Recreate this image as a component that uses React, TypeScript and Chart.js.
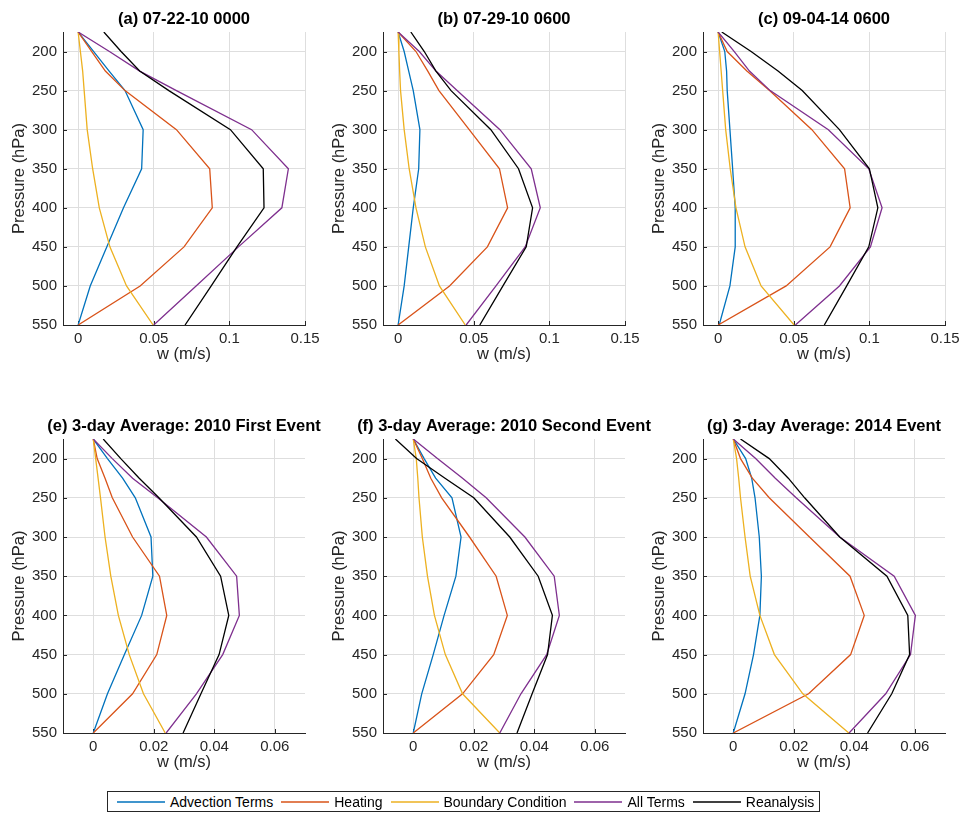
import React, { useEffect, useRef } from 'react';
import { Chart, registerables } from 'chart.js';

Chart.register(...registerables);

// ---------- data ----------
const PRESSURE = [175, 200, 225, 250, 300, 350, 400, 450, 500, 550];

const SERIES_NAMES = ['Advection Terms', 'Heating', 'Boundary Condition', 'All Terms', 'Reanalysis'];
const SERIES_COLORS = ['#0072BD', '#D95319', '#EDB120', '#7E2F8E', '#000000'];

const Y_TICKS = [200, 250, 300, 350, 400, 450, 500, 550];
const TOP_X_TICKS = [0, 0.05, 0.1, 0.15];
const TOP_X_LABELS = ['0', '0.05', '0.1', '0.15'];
const BOTTOM_X_TICKS = [0, 0.02, 0.04, 0.06];
const BOTTOM_X_LABELS = ['0', '0.02', '0.04', '0.06'];

const TITLES = [
  '(a) 07-22-10 0000',
  '(b) 07-29-10 0600',
  '(c) 09-04-14 0600',
  '(e) 3-day Average: 2010 First Event',
  '(f) 3-day Average: 2010 Second Event',
  '(g) 3-day Average: 2014 Event',
];

// (a)
const A_ADV = [0, 0.0103, 0.0205, 0.031, 0.043, 0.042, 0.030, 0.019, 0.008, 0];
const A_HEAT = [0, 0.009, 0.018, 0.031, 0.065, 0.087, 0.0887, 0.070, 0.041, 0];
const A_BC = [0, 0.0015, 0.003, 0.004, 0.006, 0.0096, 0.014, 0.021, 0.032, 0.0496];
const A_ALL = [0, 0.0207, 0.0407, 0.065, 0.1147, 0.139, 0.1347, 0.106, 0.078, 0.050];
const A_REAN = [0.017, 0.0284, 0.0407, 0.060, 0.1007, 0.1224, 0.1229, 0.105, 0.088, 0.0707];

// (b)
const B_ADV = [0, 0.004, 0.007, 0.010, 0.0144, 0.0136, 0.010, 0.007, 0.004, 0];
const B_HEAT = [0, 0.0118, 0.0196, 0.027, 0.047, 0.067, 0.0724, 0.059, 0.034, 0];
const B_BC = [0, 0.0005, 0.001, 0.0016, 0.004, 0.0073, 0.0118, 0.018, 0.0273, 0.0444];
const B_ALL = [0, 0.014, 0.025, 0.039, 0.0673, 0.088, 0.094, 0.084, 0.0647, 0.045];
const B_REAN = [0.0084, 0.0173, 0.025, 0.035, 0.0613, 0.0796, 0.0889, 0.0847, 0.0693, 0.054];

// (c)
const C_ADV = [0, 0.0044, 0.0056, 0.006, 0.0078, 0.0096, 0.0113, 0.0113, 0.0078, 0.0007];
const C_HEAT = [0, 0.006, 0.019, 0.034, 0.062, 0.0836, 0.0873, 0.074, 0.045, 0];
const C_BC = [0, 0.001, 0.002, 0.003, 0.005, 0.008, 0.0118, 0.0178, 0.0284, 0.0502];
const C_ALL = [0, 0.0107, 0.0207, 0.0344, 0.0729, 0.0996, 0.1084, 0.1007, 0.0802, 0.0511];
const C_REAN = [0.0024, 0.0218, 0.0396, 0.0556, 0.0802, 0.1, 0.1056, 0.0996, 0.085, 0.0702];

// (e)
const E_ADV = [0, 0.0047, 0.0097, 0.0139, 0.0191, 0.0197, 0.016, 0.0103, 0.0047, 0];
const E_HEAT = [0, 0.0013, 0.0039, 0.0063, 0.013, 0.0219, 0.0243, 0.021, 0.013, 0];
const E_BC = [0, 0.0008, 0.0016, 0.0024, 0.0039, 0.0058, 0.0083, 0.0119, 0.0166, 0.0238];
const E_ALL = [0, 0.0063, 0.013, 0.0213, 0.0374, 0.0474, 0.0483, 0.0428, 0.0341, 0.0241];
const E_REAN = [0.0033, 0.0091, 0.0152, 0.0217, 0.0341, 0.0421, 0.0448, 0.0416, 0.0356, 0.0297];

// (f)
const F_ADV = [0, 0.0036, 0.0074, 0.0128, 0.0158, 0.0141, 0.0102, 0.0066, 0.0028, 0];
const F_HEAT = [0, 0.003, 0.0058, 0.0094, 0.0186, 0.0274, 0.0311, 0.0266, 0.0163, 0];
const F_BC = [0, 0.001, 0.0015, 0.0019, 0.003, 0.0047, 0.007, 0.0106, 0.0163, 0.0286];
const F_ALL = [0, 0.008, 0.0163, 0.0241, 0.0369, 0.0466, 0.0483, 0.0441, 0.0356, 0.0286];
const F_REAN = [-0.0059, 0.0011, 0.0105, 0.02, 0.0319, 0.0413, 0.046, 0.0444, 0.0393, 0.0343];

// (g)
const G_ADV = [0, 0.0041, 0.0061, 0.0072, 0.0086, 0.0093, 0.0088, 0.0067, 0.0039, 0];
const G_HEAT = [0, 0.0024, 0.0063, 0.0119, 0.0252, 0.0386, 0.0433, 0.0388, 0.0249, 0];
const G_BC = [0, 0.0011, 0.0018, 0.0024, 0.0039, 0.0056, 0.0088, 0.0136, 0.023, 0.0382];
const G_ALL = [0, 0.0074, 0.0139, 0.0208, 0.0352, 0.0532, 0.0602, 0.0586, 0.0504, 0.0383];
const G_REAN = [0.0024, 0.0119, 0.0182, 0.0236, 0.0352, 0.0508, 0.0577, 0.0583, 0.0524, 0.0444];

// ---------- layout / style ----------
const FONT = '"Liberation Sans", Arial, Helvetica, sans-serif';
const AXIS_COLOR = '#262626';
const GRID_COLOR = '#dedede';

const CANVAS_W = 368;
const Y_AXIS_W = 63;
const RIGHT_PAD = 63;
const TOP_PAD = 32;
const X_AXIS_H = 45;

type PanelSpec = {
  title: string;
  series: number[][];
  xMin: number;
  xMax: number;
  xTicks: number[];
  xLabels: string[];
  left: number;
  top: number;
  height: number;
};

const PANELS: PanelSpec[] = [
  { title: TITLES[0], series: [A_ADV, A_HEAT, A_BC, A_ALL, A_REAN], xMin: -0.01, xMax: 0.15, xTicks: TOP_X_TICKS, xLabels: TOP_X_LABELS, left: 0, top: 0, height: 370 },
  { title: TITLES[1], series: [B_ADV, B_HEAT, B_BC, B_ALL, B_REAN], xMin: -0.01, xMax: 0.15, xTicks: TOP_X_TICKS, xLabels: TOP_X_LABELS, left: 320, top: 0, height: 370 },
  { title: TITLES[2], series: [C_ADV, C_HEAT, C_BC, C_ALL, C_REAN], xMin: -0.01, xMax: 0.15, xTicks: TOP_X_TICKS, xLabels: TOP_X_LABELS, left: 640, top: 0, height: 370 },
  { title: TITLES[3], series: [E_ADV, E_HEAT, E_BC, E_ALL, E_REAN], xMin: -0.01, xMax: 0.07, xTicks: BOTTOM_X_TICKS, xLabels: BOTTOM_X_LABELS, left: 0, top: 407, height: 371 },
  { title: TITLES[4], series: [F_ADV, F_HEAT, F_BC, F_ALL, F_REAN], xMin: -0.01, xMax: 0.07, xTicks: BOTTOM_X_TICKS, xLabels: BOTTOM_X_LABELS, left: 320, top: 407, height: 371 },
  { title: TITLES[5], series: [G_ADV, G_HEAT, G_BC, G_ALL, G_REAN], xMin: -0.01, xMax: 0.07, xTicks: BOTTOM_X_TICKS, xLabels: BOTTOM_X_LABELS, left: 640, top: 407, height: 371 },
];

// MATLAB-like inward tick marks
const inwardTicks = {
  id: 'inwardTicks',
  beforeDatasetsDraw(chart: any) {
    const { ctx, chartArea, scales } = chart;
    const x = scales.x;
    const y = scales.y;
    ctx.save();
    ctx.strokeStyle = AXIS_COLOR;
    ctx.lineWidth = 1;
    x.ticks.forEach((t: any) => {
      const px = Math.round(x.getPixelForValue(t.value)) + 0.5;
      ctx.beginPath();
      ctx.moveTo(px, chartArea.bottom);
      ctx.lineTo(px, chartArea.bottom - 4);
      ctx.stroke();
    });
    y.ticks.forEach((t: any) => {
      const py = Math.round(y.getPixelForValue(t.value)) + 0.5;
      ctx.beginPath();
      ctx.moveTo(chartArea.left, py);
      ctx.lineTo(chartArea.left + 4, py);
      ctx.stroke();
    });
    ctx.restore();
  },
};

// Title centred over the plot area (like MATLAB), not over the whole canvas
const panelTitle = {
  id: 'panelTitle',
  afterDraw(chart: any, _args: any, opts: any) {
    const { ctx, chartArea } = chart;
    ctx.save();
    ctx.font = `bold 16.5px ${FONT}`;
    ctx.fillStyle = '#000000';
    ctx.textAlign = 'center';
    ctx.textBaseline = 'middle';
    ctx.fillText(opts.text, (chartArea.left + chartArea.right) / 2, chartArea.top - 13);
    ctx.restore();
  },
};

function Panel({ spec }: { spec: PanelSpec }) {
  const ref = useRef<HTMLCanvasElement | null>(null);

  useEffect(() => {
    if (!ref.current) return;
    const chart = new Chart(ref.current, {
      type: 'line',
      data: {
        datasets: spec.series.map((vals, i) => ({
          label: SERIES_NAMES[i],
          data: vals.map((v, j) => ({ x: v, y: PRESSURE[j] })),
          borderColor: SERIES_COLORS[i],
          backgroundColor: SERIES_COLORS[i],
          borderWidth: 1.3,
          pointRadius: 0,
          fill: false,
          tension: 0,
          order: SERIES_NAMES.length - 1 - i,
        })),
      },
      options: {
        animation: false,
        responsive: false,
        events: [],
        layout: { padding: { left: 0, right: RIGHT_PAD, top: TOP_PAD, bottom: 0 } },
        plugins: {
          legend: { display: false },
          tooltip: { enabled: false },
          title: { display: false },
          panelTitle: { text: spec.title },
        },
        scales: {
          x: {
            type: 'linear',
            min: spec.xMin,
            max: spec.xMax,
            afterBuildTicks: (s: any) => {
              s.ticks = spec.xTicks.map((v) => ({ value: v }));
            },
            afterFit: (s: any) => {
              s.height = X_AXIS_H;
            },
            ticks: {
              autoSkip: false,
              maxRotation: 0,
              color: AXIS_COLOR,
              padding: 5,
              font: { family: FONT, size: 15 },
              callback: (value: any) => {
                const k = spec.xTicks.indexOf(Number(value));
                return k >= 0 ? spec.xLabels[k] : '';
              },
            },
            grid: { color: GRID_COLOR, lineWidth: 1, drawTicks: false },
            border: { display: true, color: AXIS_COLOR, width: 1 },
            title: {
              display: true,
              text: 'w (m/s)',
              color: AXIS_COLOR,
              font: { family: FONT, size: 16.5 },
              padding: { top: 0, bottom: 6 },
            },
          },
          y: {
            type: 'linear',
            reverse: true,
            min: 175,
            max: 550,
            afterBuildTicks: (s: any) => {
              s.ticks = Y_TICKS.map((v) => ({ value: v }));
            },
            afterFit: (s: any) => {
              s.width = Y_AXIS_W;
            },
            ticks: {
              autoSkip: false,
              color: AXIS_COLOR,
              padding: 6,
              font: { family: FONT, size: 15 },
              callback: (value: any) => String(value),
            },
            grid: { color: GRID_COLOR, lineWidth: 1, drawTicks: false },
            border: { display: true, color: AXIS_COLOR, width: 1 },
            title: {
              display: true,
              text: 'Pressure (hPa)',
              color: AXIS_COLOR,
              font: { family: FONT, size: 16.5 },
              padding: { top: 9.5, bottom: 0 },
            },
          },
        },
      } as any,
      plugins: [inwardTicks, panelTitle],
    });
    return () => chart.destroy();
  }, [spec]);

  return (
    <canvas
      ref={ref}
      width={CANVAS_W}
      height={spec.height}
      style={{ position: 'absolute', left: spec.left, top: spec.top, width: CANVAS_W, height: spec.height }}
    />
  );
}

function Legend() {
  return (
    <div
      style={{
        position: 'absolute',
        left: 107,
        top: 791,
        height: 21,
        display: 'flex',
        alignItems: 'center',
        border: `1px solid ${AXIS_COLOR}`,
        background: '#ffffff',
        padding: '0 5px 0 9px',
        fontFamily: FONT,
        fontSize: 14,
        color: '#000000',
        whiteSpace: 'nowrap',
        boxSizing: 'border-box',
      }}
    >
      {SERIES_NAMES.map((name, i) => (
        <div key={name} style={{ display: 'flex', alignItems: 'center', marginLeft: i === 0 ? 0 : 8 }}>
          <svg width={48} height={8} style={{ display: 'block' }}>
            <line x1={0} y1={4} x2={48} y2={4} stroke={SERIES_COLORS[i]} strokeWidth={1.3} />
          </svg>
          <span style={{ marginLeft: 5, lineHeight: '18px' }}>{name}</span>
        </div>
      ))}
    </div>
  );
}

export default function App() {
  return (
    <div
      style={{
        position: 'absolute',
        left: 0,
        top: 0,
        width: 964,
        height: 815,
        overflow: 'hidden',
        background: '#ffffff',
      }}
    >
      {PANELS.map((p) => (
        <Panel key={p.title} spec={p} />
      ))}
      <Legend />
    </div>
  );
}
